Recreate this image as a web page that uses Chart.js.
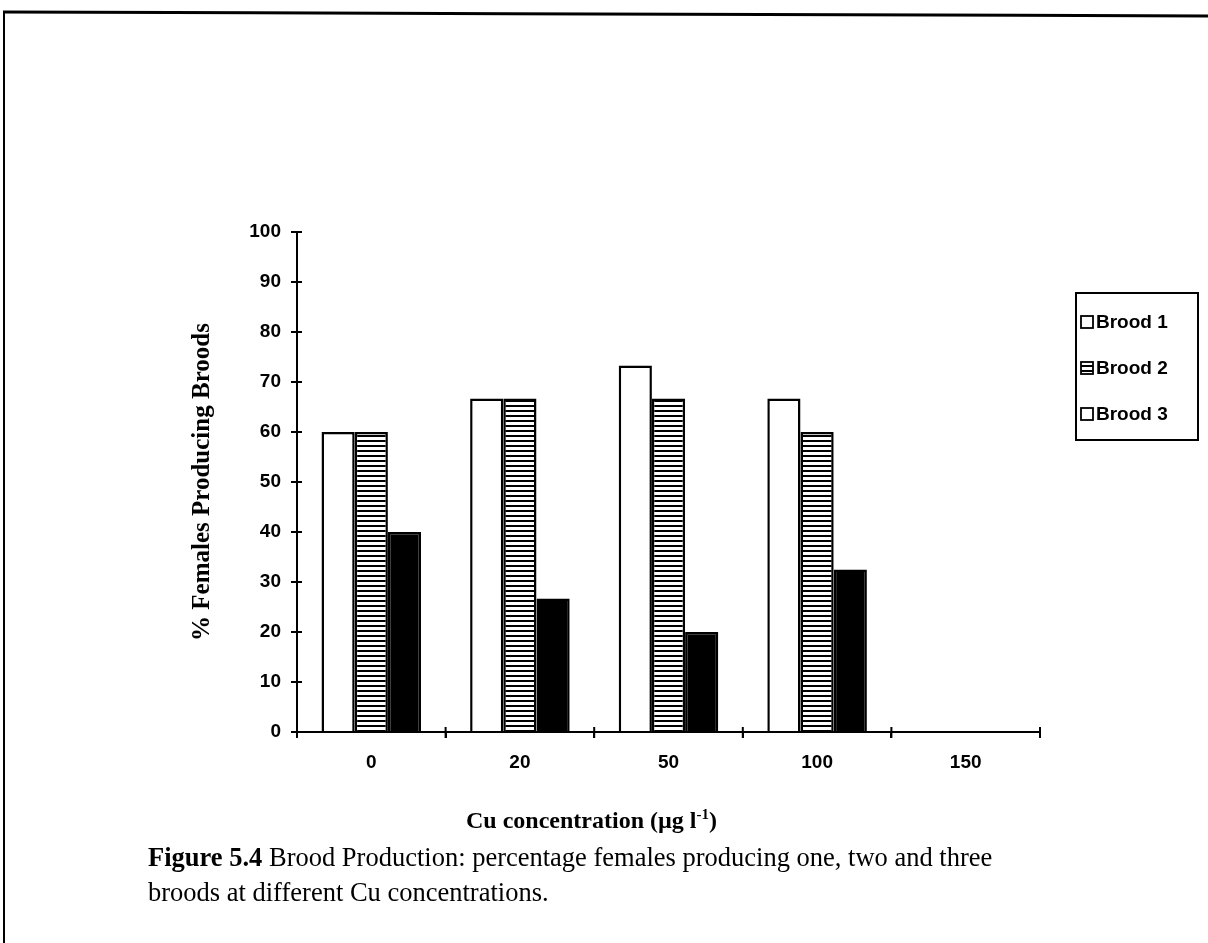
<!DOCTYPE html>
<html>
<head>
<meta charset="utf-8">
<script src="https://cdn.jsdelivr.net/npm/chart.js@4.4.1/dist/chart.umd.min.js"></script>
<style>
  html, body { margin: 0; padding: 0; background: #fff; }
  body { width: 1208px; height: 943px; position: relative; overflow: hidden; }
  #frame { position: absolute; left: 0; top: 0; }
  #wrap { position: absolute; left: 0; top: 0; width: 1208px; height: 943px; }
  .t { position: absolute; font-family: "Liberation Serif", "Times New Roman", serif; color: #000; white-space: nowrap; }
  #xtitle { left: 466px; top: 806px; font-size: 24px; font-weight: bold; }
  #cap1 { left: 148px; top: 842px; font-size: 26.5px; }
  #cap2 { left: 148px; top: 877px; font-size: 26.5px; }
</style>
</head>
<body>
<svg id="frame" width="1208" height="943">
  <line x1="3" y1="12" x2="1208" y2="16" stroke="#000" stroke-width="3"/>
  <line x1="4" y1="11" x2="4" y2="943" stroke="#000" stroke-width="2"/>
</svg>
<div id="wrap"><canvas id="c" width="1208" height="943"></canvas></div>
<div class="t" id="xtitle">Cu concentration (µg l<sup style="font-size:15px">-1</sup>)</div>
<div class="t" id="cap1"><b>Figure 5.4</b> Brood Production: percentage females producing one, two and three</div>
<div class="t" id="cap2">broods at different Cu concentrations.</div>
<script>
const categories = ["0", "20", "50", "100", "150"];
const brood1 = [60, 66.7, 73.3, 66.7, 0];
const brood2 = [60, 66.7, 66.7, 60, 0];
const brood3 = [40, 26.7, 20, 32.5, 0];
const seriesLabels = ["Brood 1", "Brood 2", "Brood 3"];
const yTicks = [0, 10, 20, 30, 40, 50, 60, 70, 80, 90, 100];

function stripePattern() {
  const p = document.createElement('canvas');
  p.width = 8; p.height = 5;
  const g = p.getContext('2d');
  g.fillStyle = '#fff'; g.fillRect(0, 0, 8, 5);
  g.fillStyle = '#000'; g.fillRect(0, 0, 8, 2);
  return g.createPattern(p, 'repeat');
}
const ctx = document.getElementById('c').getContext('2d');
const stripes = stripePattern();
const tickFont = { family: '"Liberation Sans", Arial, sans-serif', size: 19, weight: 'bold' };

const crossTicks = {
  id: 'crossTicks',
  afterDatasetsDraw(chart) {
    const c = chart.ctx, x = chart.scales.x, y = chart.scales.y;
    c.save();
    c.strokeStyle = '#000'; c.lineWidth = 2;
    y.ticks.forEach((t, i) => {
      const py = y.getPixelForTick(i);
      c.beginPath(); c.moveTo(y.right, py); c.lineTo(y.right + 5, py); c.stroke();
    });
    for (let i = 0; i <= categories.length; i++) {
      const px = x.left + (x.right - x.left) * i / categories.length;
      c.beginPath(); c.moveTo(px, x.top - 5); c.lineTo(px, x.top + 6); c.stroke();
    }
    c.restore();
  }
};

const legendBox = {
  id: 'legendBox',
  afterDraw(chart) {
    const c = chart.ctx;
    const bx = 1076, by = 293, bw = 122, bh = 147;
    c.save();
    c.strokeStyle = '#000'; c.lineWidth = 2;
    c.strokeRect(bx, by, bw, bh);
    c.font = 'bold 19px "Liberation Sans", Arial, sans-serif';
    c.textBaseline = 'middle';
    const icons = ['#fff', stripes, '#fff'];
    chart.data.datasets.forEach((ds, i) => {
      const cy = by + 29 + i * 46;
      c.fillStyle = icons[i];
      c.fillRect(bx + 5, cy - 6, 12, 12);
      c.lineWidth = 1.8; c.strokeStyle = '#000';
      c.strokeRect(bx + 5, cy - 6, 12, 12);
      c.fillStyle = '#000';
      c.fillText(ds.label, bx + 20, cy + 1);
    });
    c.restore();
  }
};

new Chart(ctx, {
  type: 'bar',
  data: {
    labels: categories,
    datasets: [
      { label: seriesLabels[0], data: brood1, backgroundColor: '#fff', borderColor: '#000', borderWidth: 2.5 },
      { label: seriesLabels[1], data: brood2, backgroundColor: stripes, borderColor: '#000', borderWidth: 2.5 },
      { label: seriesLabels[2], data: brood3, backgroundColor: '#000', borderColor: '#000', borderWidth: 2.5 }
    ]
  },
  options: {
    responsive: false,
    animation: false,
    events: [],
    layout: { padding: { left: 188, right: 168, top: 232, bottom: 151 } },
    datasets: { bar: { categoryPercentage: 0.67, barPercentage: 1.0 } },
    plugins: { legend: { display: false }, tooltip: { enabled: false } },
    scales: {
      x: {
        afterFit(s) { s.height = 60; },
        grid: { display: true, drawOnChartArea: false, drawTicks: true, tickLength: 6, offset: true, color: '#000', lineWidth: 2 },
        border: { display: true, color: '#000', width: 2 },
        ticks: { color: '#000', padding: 13, font: tickFont }
      },
      y: {
        min: 0, max: 100,
        afterFit(s) { s.width = 109; },
        afterBuildTicks(s) { s.ticks = yTicks.map(v => ({ value: v })); },
        grid: { display: true, drawOnChartArea: false, drawTicks: true, tickLength: 6, color: '#000', lineWidth: 2 },
        border: { display: true, color: '#000', width: 2 },
        ticks: { color: '#000', padding: 10, font: tickFont },
        title: { display: true, text: '% Females Producing Broods', color: '#000', padding: { top: 0, bottom: 14 },
                 font: { family: '"Liberation Serif", "Times New Roman", serif', size: 25, weight: 'bold' } }
      }
    }
  },
  plugins: [crossTicks, legendBox]
});
</script>
</body>
</html>
